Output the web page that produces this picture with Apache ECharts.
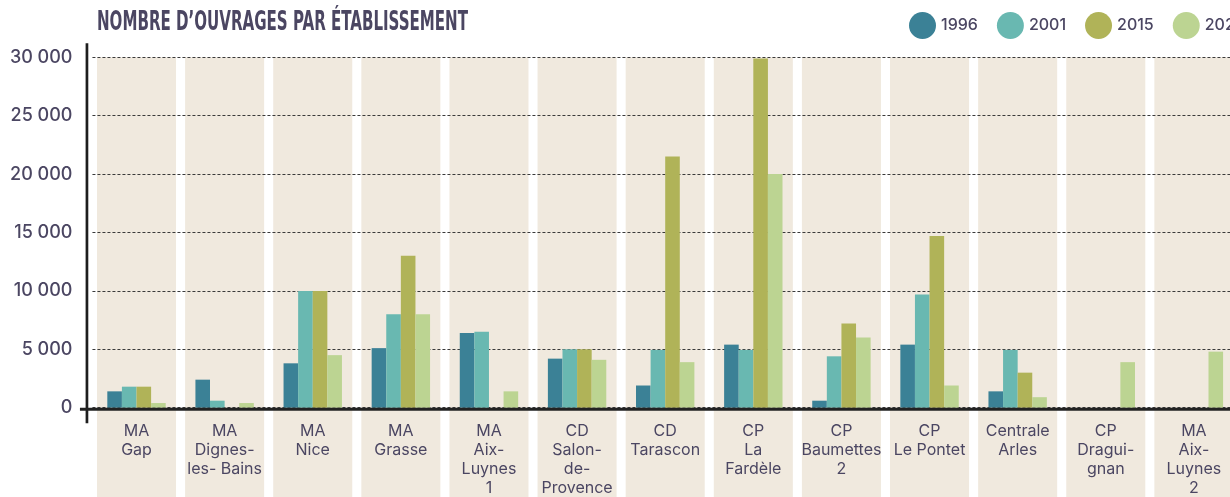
<!DOCTYPE html>
<html>
<head>
<meta charset="utf-8">
<script src="https://cdn.jsdelivr.net/npm/echarts@6/dist/echarts.min.js"></script>
<style>
  html, body { margin: 0; padding: 0; background: #fff; }
  #chart { width: 1230px; height: 497px; }
</style>
</head>
<body>
<div id="chart"></div>
<script>
const titleText = "NOMBRE D’OUVRAGES PAR ÉTABLISSEMENT";
const categories = [
  "MA\nGap", "MA\nDignes-\nles- Bains", "MA\nNice", "MA\nGrasse", "MA\nAix-\nLuynes\n1",
  "CD\nSalon-\nde-\nProvence", "CD\nTarascon", "CP\nLa\nFardèle", "CP\nBaumettes\n2",
  "CP\nLe Pontet", "Centrale\nArles", "CP\nDragui-\ngnan", "MA\nAix-\nLuynes\n2"
];
const years = ["1996", "2001", "2015", "2020"];
const data1996 = [1400, 2400, 3800, 5100, 6400, 4200, 1900, 5400, 600, 5400, 1400, 0, 0];
const data2001 = [1800, 600, 10000, 8000, 6500, 5000, 4950, 4950, 4400, 9700, 4950, 0, 0];
const data2015 = [1800, 0, 10000, 13000, 0, 5000, 21500, 29900, 7200, 14700, 3000, 0, 0];
const data2020 = [400, 400, 4500, 8000, 1400, 4100, 3900, 20000, 6000, 1900, 900, 3900, 4800];
const yMax = 30000;
const yStep = 5000;

const colors = ["#3b8196", "#69b8b1", "#b0b358", "#bcd492"];
const textColor = "#4b4662";

const chart = echarts.init(document.getElementById("chart"));

// titre condensé : police étroite + étirement horizontal
const titleFont = 'bold 26px "DejaVu Sans Condensed"';
const ctx = document.createElement("canvas").getContext("2d");
ctx.font = titleFont;
const titleScale = 371 / ctx.measureText(titleText).width;

const barSeries = [data1996, data2001, data2015, data2020].map((d, i) => ({
  name: years[i],
  type: "bar",
  data: d,
  barWidth: 14.6,
  barGap: "0%",
  itemStyle: { color: colors[i] },
  z: 3
}));

const option = {
  animation: false,
  graphic: [{
    type: "text",
    x: 97,
    y: 23,
    scaleX: titleScale,
    style: {
      text: titleText,
      font: titleFont,
      fill: textColor,
      verticalAlign: "middle"
    }
  }],
  legend: {
    data: years,
    left: 904,
    top: 7,
    width: 600,
    icon: "circle",
    itemWidth: 27,
    itemHeight: 27,
    itemGap: 19,
    textStyle: { color: textColor, fontSize: 16, fontWeight: 500, fontFamily: "Inter" }
  },
  // la dernière colonne déborde à droite de l'image
  grid: { left: 92.45, width: 1145.5, top: 57.3, bottom: 89.3, outerBoundsMode: "none", containLabel: false },
  xAxis: {
    type: "category",
    data: categories,
    axisLine: { show: false },
    axisTick: { show: false },
    axisLabel: {
      interval: 0,
      margin: 14,
      color: textColor,
      fontSize: 16,
      lineHeight: 19,
      fontFamily: "Inter",
      align: "center"
    }
  },
  yAxis: {
    type: "value",
    min: 0,
    max: yMax,
    interval: yStep,
    axisLine: { show: false },
    axisTick: { show: false },
    axisLabel: {
      margin: 20,
      color: textColor,
      fontSize: 18,
      fontWeight: 500,
      fontFamily: "Inter",
      formatter: v => String(v).replace(/\B(?=(\d{3})+(?!\d))/g, " ")
    },
    splitLine: { lineStyle: { color: "#3a3a3a", width: 1, type: [3, 2] } }
  },
  series: [
    {
      // bandes de fond beiges
      type: "custom",
      silent: true,
      z: -1,
      clip: false,
      data: categories.map((c, i) => [i, yMax]),
      renderItem: (params, api) => {
        const top = api.coord([api.value(0), api.value(1)]);
        const w = api.size([1, 0])[0] * 0.897;
        return {
          type: "rect",
          shape: { x: top[0] - w / 2, y: top[1], width: w, height: api.getHeight() - top[1] },
          style: { fill: "#f0e9de" }
        };
      }
    },
    ...barSeries,
    {
      // axes noirs prolongés
      type: "custom",
      silent: true,
      z: 10,
      clip: false,
      data: [[0, 0]],
      renderItem: (params, api) => {
        const p0 = api.coord([0, 0]);
        const pTop = api.coord([0, yMax]);
        const cw = api.size([1, 0])[0];
        const left = p0[0] - cw / 2;
        return {
          type: "group",
          children: [
            {
              type: "line",
              shape: { x1: left - 5.5, y1: pTop[1] - 14, x2: left - 5.5, y2: p0[1] + 15.5 },
              style: { stroke: "#1e1e1e", lineWidth: 2.7 }
            },
            {
              type: "line",
              shape: { x1: left - 12.5, y1: p0[1] + 1.5, x2: api.getWidth(), y2: p0[1] + 1.5 },
              style: { stroke: "#222", lineWidth: 3 }
            }
          ]
        };
      }
    }
  ]
};

chart.setOption(option);
</script>
</body>
</html>
